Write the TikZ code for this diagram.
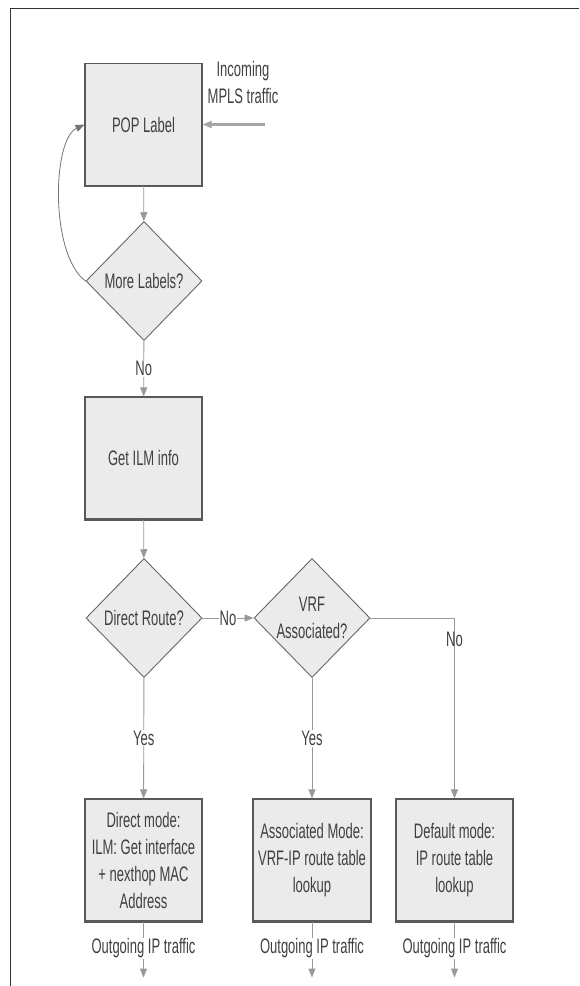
\documentclass[tikz,border=0pt]{standalone}
\usepackage{fontspec}
\setmainfont{Liberation Sans}[FakeStretch=0.62]
\usetikzlibrary{shapes.geometric,arrows.meta}

\begin{document}
\begin{tikzpicture}[x=1pt, y=-1pt,
    font=\fontsize{21}{27}\selectfont,
    box/.style={rectangle, draw=black!65, line width=1.1pt, fill=black!8, minimum width=117pt, minimum height=122pt, inner sep=2pt, align=center, text=black!75},
    decision/.style={diamond, draw=black!60, line width=0.9pt, fill=black!8, minimum width=116pt, minimum height=119pt, inner sep=0pt, align=center, text=black!75},
    flow/.style={draw=black!40, line width=0.9pt, -{Triangle[length=9pt,width=7pt]}},
    lbl/.style={fill=white, inner sep=1pt, text=black!75}]
    \useasboundingbox (0,0) rectangle (579,986);

    % frame
    \draw[black!80, line width=1pt] (10,986) -- (10,8) -- (579,8);

    % steps and decisions
    \node[box] (pop) at (143.5,124.5) {POP Label};
    \node[decision] (more) at (144,281) {More Labels?};
    \node[box] (ilm) at (143.5,458) {Get ILM info};
    \node[decision] (direct) at (144,618) {Direct Route?};
    \node[decision] (vrf) at (312,618) {VRF\\Associated?};
    \node[box] (dmode) at (143.5,860) {Direct mode:\\ILM: Get interface\\+ nexthop MAC\\Address};
    \node[box, minimum width=118pt] (amode) at (312,860) {Associated Mode:\\VRF-IP route table\\lookup};
    \node[box] (fmode) at (454.5,860) {Default mode:\\IP route table\\lookup};
    \foreach \b in {pop, ilm, dmode, amode, fmode}
        \draw[black!65, line width=2.2pt] (\b.south west) -- (\b.south east);

    % incoming traffic
    \node[text=black!75, align=center] (intext) at (243,82) {Incoming\\MPLS traffic};
    \coordinate (in) at (265,124.5);
    \draw[flow, draw=black!35, line width=3pt] (in) -- (pop.east);

    % connectors
    \draw[flow] (pop) -- (more);
    \draw[flow] (more) -- node[lbl] {No} (ilm);
    \draw[flow] (ilm) -- (direct);
    \draw[flow] (direct) -- node[lbl] {No} (vrf);
    \draw[flow] (direct) -- node[lbl] {Yes} (dmode);
    \draw[flow] (vrf) -- node[lbl] {Yes} (amode);
    \draw[flow] (vrf.east) -| node[pos=0.56, text=black!75] {No} (fmode.north);
    \draw[flow, draw=black!55, line width=0.8pt] (more.west) .. controls (50,255) and (52,140) .. (pop.west);

    % outgoing traffic
    \foreach \m in {dmode, amode, fmode} {
        \coordinate (\m-out) at ([yshift=-56pt]\m.south);
        \draw[flow] (\m.south) -- node[lbl, pos=0.48] {Outgoing IP traffic} (\m-out);
    }
\end{tikzpicture}
\end{document}
